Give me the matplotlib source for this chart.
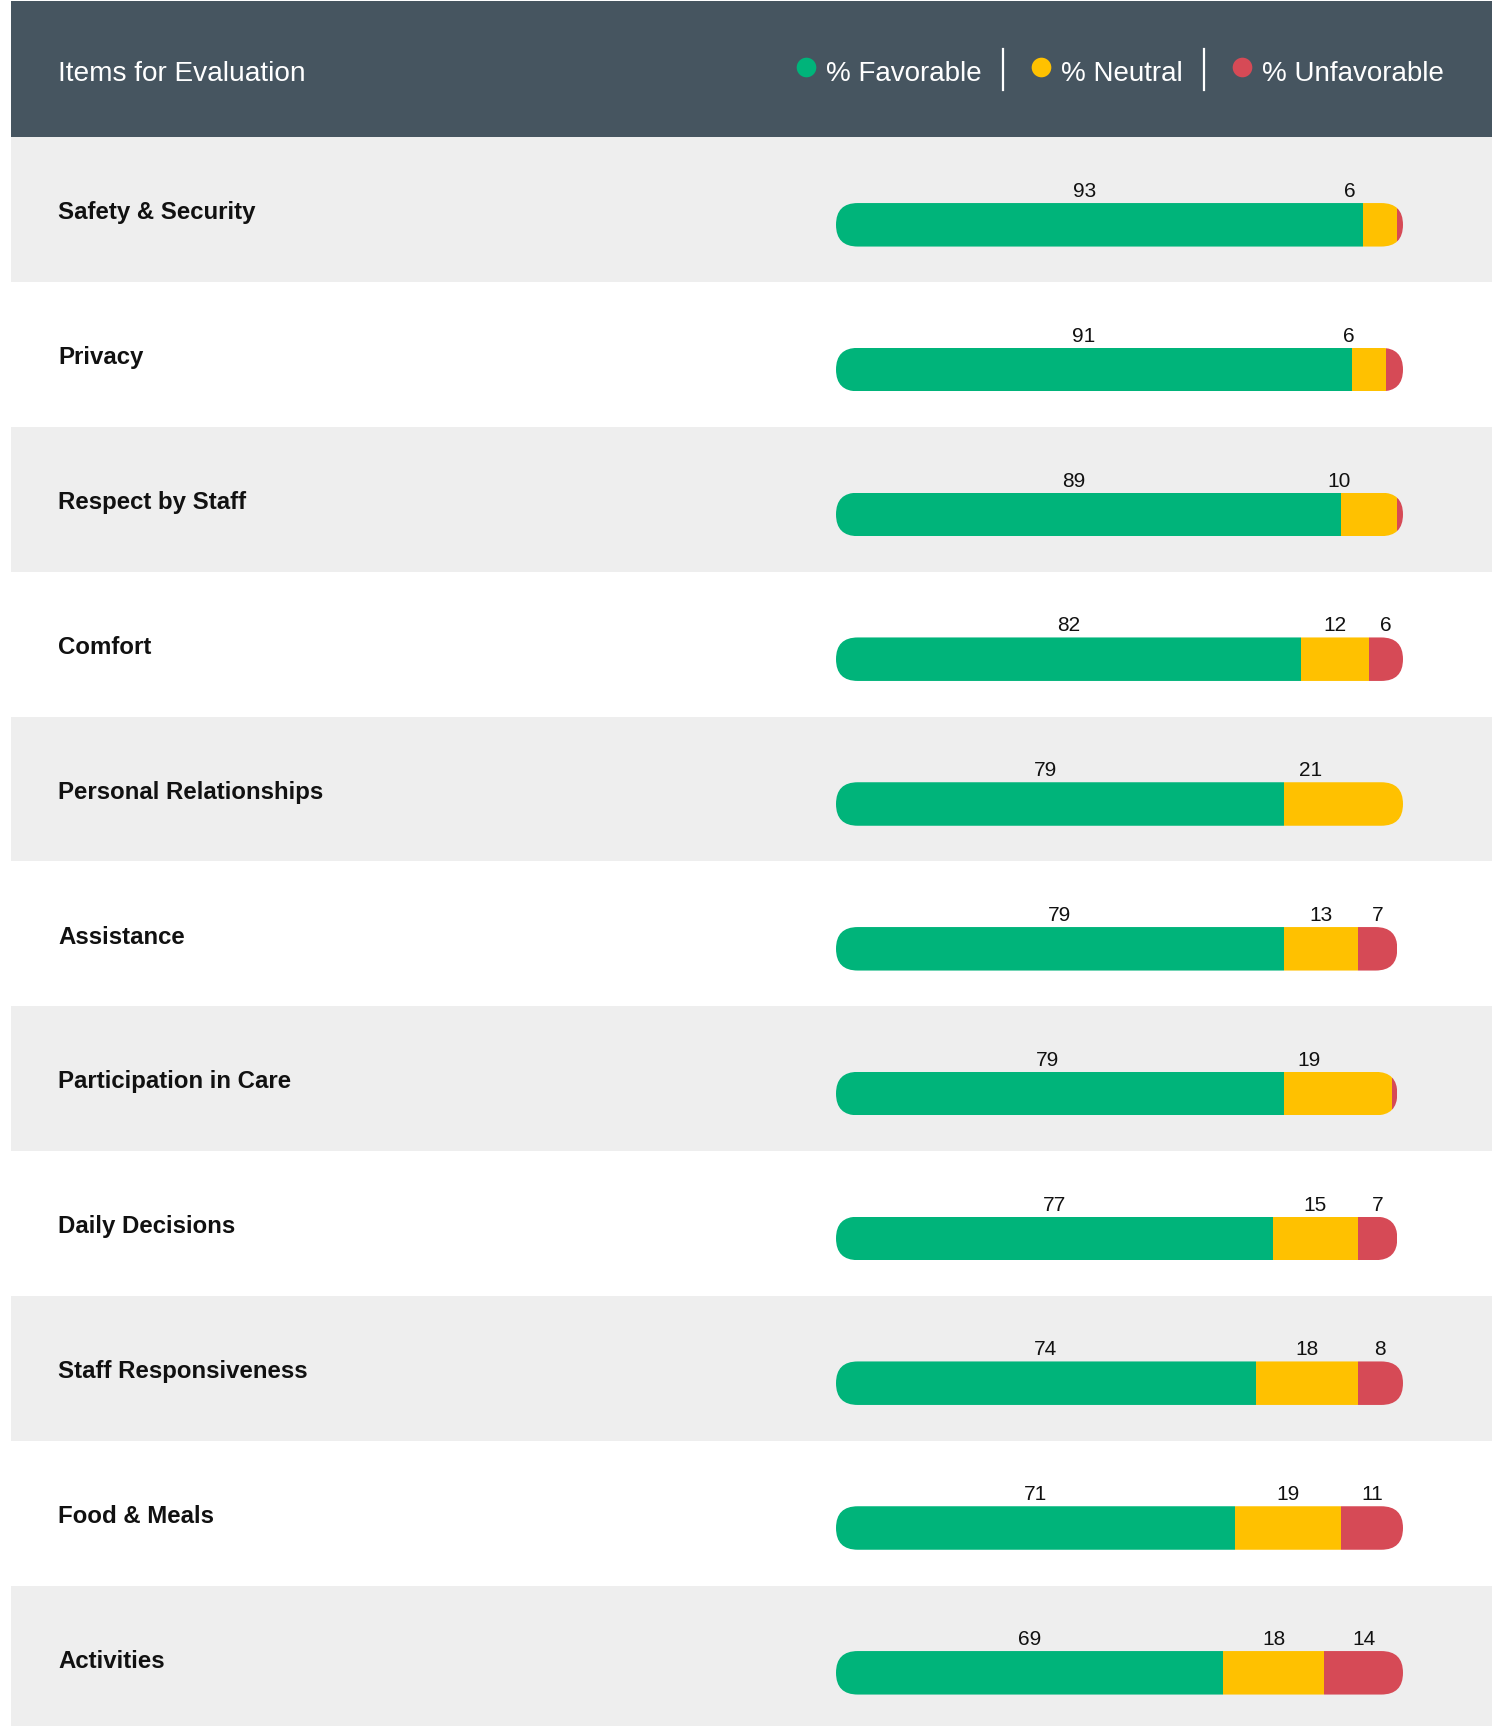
import matplotlib.pyplot as plt
from matplotlib.patches import FancyBboxPatch

plt.rcParams["font.family"] = ["Liberation Sans", "DejaVu Sans"]

items = ["Safety & Security", "Privacy", "Respect by Staff", "Comfort",
         "Personal Relationships", "Assistance", "Participation in Care",
         "Daily Decisions", "Staff Responsiveness", "Food & Meals", "Activities"]
favorable = [93, 91, 89, 82, 79, 79, 79, 77, 74, 71, 69]
neutral = [6, 6, 10, 12, 21, 13, 19, 15, 18, 19, 18]
unfavorable = [1, 3, 1, 6, 0, 7, 1, 7, 8, 11, 14]
series_names = ["% Favorable", "% Neutral", "% Unfavorable"]

colors = ["#00B47A", "#FFC100", "#D64A56"]
HEADER = "#465560"
STRIPE = "#EEEEEE"

# page layout in pixels
W, H = 1499, 1726
left, right = 11, 1492
head_top, head_bot = 1, 137.5
row_h = 144.8
bar_x0, bar_x1 = 836, 1403
n = len(items)

fig = plt.figure(figsize=(W / 100, H / 100), dpi=100)

# header band
hd = fig.add_axes([left / W, 1 - head_bot / H, (right - left) / W, (head_bot - head_top) / H])
hd.set_xlim(left, right)
hd.set_ylim(head_bot, head_top)
hd.set_facecolor(HEADER)
for s in hd.spines.values():
    s.set_visible(False)
hd.set_xticks([])
hd.set_yticks([])
hd.text(58, 81, "Items for Evaluation", color="white", fontsize=20.2, va="baseline")
for name, c, x in zip(series_names, colors, [806, 1041, 1242]):
    hd.scatter([x], [67.5], s=200, color=c, linewidths=0, zorder=3)
    hd.text(x + 20, 81, name, color="white", fontsize=20, va="baseline")
for x in [1003, 1204]:
    hd.plot([x, x], [49, 90], color="white", lw=1.6)

# rows
rows_px = n * row_h
ax = fig.add_axes([left / W, 1 - (head_bot + rows_px) / H, (right - left) / W, rows_px / H])
ppu = (bar_x1 - bar_x0) / 100  # pixels per percent
ax.set_xlim(-(bar_x0 - left) / ppu, (right - bar_x0) / ppu)
ax.set_ylim(n - 0.5, -0.5)
ax.axis("off")

for i in range(0, n, 2):
    ax.axhspan(i - 0.5, i + 0.5, color=STRIPE, zorder=0, lw=0)

bar_h = 43.5 / row_h
bar_off = 87.3 / row_h - 0.5
lab_off = 59.5 / row_h - 0.5
name_off = 82 / row_h - 0.5
aspect = ppu / row_h

for i, item in enumerate(items):
    ax.text((58 - left) / (right - left), i + name_off, item, transform=ax.get_yaxis_transform(),
            fontsize=17.3, fontweight="bold", color="#111111", va="baseline")

    vals = [favorable[i], neutral[i], unfavorable[i]]
    scale = 100 / max(sum(vals), 100)
    widths = [v * scale for v in vals]
    length = sum(widths)
    y = i + bar_off

    outline = FancyBboxPatch((0, y - bar_h / 2), length, bar_h,
                             boxstyle=f"round,pad=0,rounding_size={bar_h / 2 / aspect}",
                             mutation_aspect=aspect, transform=ax.transData,
                             facecolor="none", edgecolor="none")
    ax.add_patch(outline)
    lefts = [0, widths[0], widths[0] + widths[1]]
    bars = ax.barh([y] * 3, widths, left=lefts, height=bar_h, color=colors, lw=0, zorder=2)
    for b in bars:
        b.set_clip_path(outline)

    # value labels; tiny hidden segments still take a little room
    lay = [v if v >= 5 else 7 for v in vals]
    k = length / sum(lay)
    x = 0
    for v, lw in zip(vals, lay):
        if v >= 5:
            ax.text(x + lw * k / 2, i + lab_off, str(v), ha="center", va="baseline",
                    fontsize=15, color="#111111")
        x += lw * k

fig.savefig("out.png", dpi=100)
